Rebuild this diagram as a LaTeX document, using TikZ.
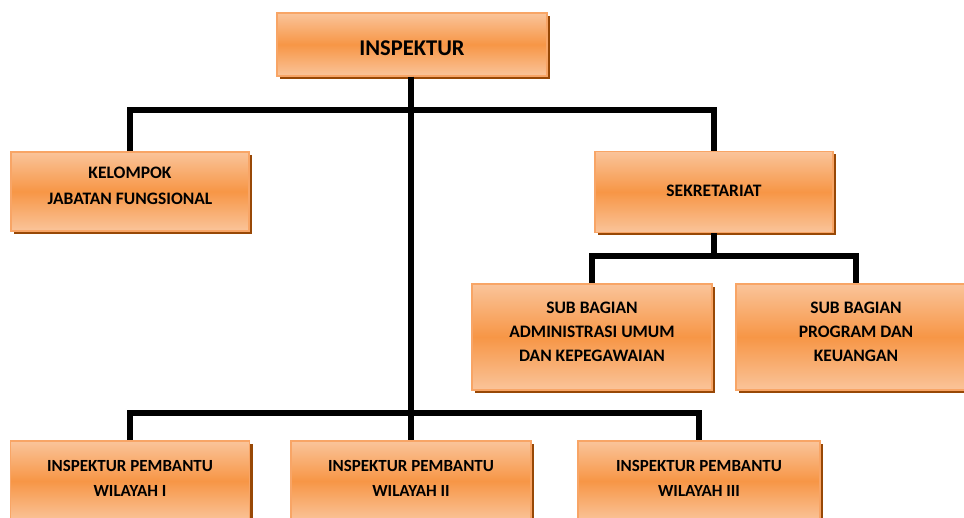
\documentclass[tikz,border=0pt]{standalone}
\usepackage{fontspec}
\setmainfont{Carlito}
\usetikzlibrary{shadows}
\definecolor{boxmid}{HTML}{F79646}
\definecolor{boxlight}{HTML}{FAC49A}
\definecolor{boxborder}{HTML}{F8A566}
\definecolor{shadowbrown}{HTML}{984806}
\newcommand\orgtext[2]{\raisebox{#1}[\height][\depth]{\begin{tabular}{@{}c@{}}#2\end{tabular}}}
\tikzset{
  orgbox/.style={draw=boxborder, line width=1.5pt, top color=boxlight, bottom color=boxlight, middle color=boxmid,
    drop shadow={shadow xshift=3pt, shadow yshift=-3pt, fill=shadowbrown, opacity=1},
    inner sep=0pt, font=\fontsize{17.5}{26}\selectfont\bfseries},
  conn/.style={line width=5.5pt, black}
}
\begin{document}
\begin{tikzpicture}[x=1pt,y=-1pt]
\path[use as bounding box, clip] (0,0) rectangle (964,518);
\fill[white] (0,0) rectangle (964,518);
% nodes
\node[orgbox, minimum width=270pt, minimum height=63pt, font=\fontsize{22.5}{26}\selectfont\bfseries] (insp) at (412,44.5) {\orgtext{-5.5pt}{INSPEKTUR}};
\node[orgbox, minimum width=238pt, minimum height=79pt] (kel) at (130,191.5) {\orgtext{5pt}{KELOMPOK\\JABATAN FUNGSIONAL}};
\node[orgbox, minimum width=238pt, minimum height=81pt] (sek) at (714,192) {\orgtext{1pt}{SEKRETARIAT}};
\node[orgbox, minimum width=240pt, minimum height=106pt, font=\fontsize{17.5}{24}\selectfont\bfseries] (adm) at (592,337) {\orgtext{4pt}{SUB BAGIAN\\ADMINISTRASI UMUM\\DAN KEPEGAWAIAN}};
\node[orgbox, minimum width=240pt, minimum height=106pt, font=\fontsize{17.5}{24}\selectfont\bfseries] (prog) at (856,337) {\orgtext{4pt}{SUB BAGIAN\\PROGRAM DAN\\KEUANGAN}};
\node[orgbox, minimum width=239pt, minimum height=80pt, font=\fontsize{17}{25}\selectfont\bfseries] (w1) at (130,481) {\orgtext{2pt}{INSPEKTUR PEMBANTU\\WILAYAH I}};
\node[orgbox, minimum width=240pt, minimum height=80pt, font=\fontsize{17}{25}\selectfont\bfseries] (w2) at (411,481) {\orgtext{2pt}{INSPEKTUR PEMBANTU\\WILAYAH II}};
\node[orgbox, minimum width=242pt, minimum height=80pt, font=\fontsize{17}{25}\selectfont\bfseries] (w3) at (699,481) {\orgtext{2pt}{INSPEKTUR PEMBANTU\\WILAYAH III}};
% bus coordinates
\coordinate (topbus) at (0,110);
\coordinate (sekbus) at (0,256);
\coordinate (botbus) at (0,413);
% connectors
\draw[conn] (insp.south -| w2.north) -- (w2.north);
\draw[conn] (kel.north) -- (kel.north |- topbus) -- (sek.north |- topbus) -- (sek.north);
\draw[conn] (sek.south) -- (sek.south |- sekbus);
\draw[conn] (adm.north) -- (adm.north |- sekbus) -- (prog.north |- sekbus) -- (prog.north);
\draw[conn] (w1.north) -- (w1.north |- botbus) -- (w3.north |- botbus) -- (w3.north);
\end{tikzpicture}
\end{document}
